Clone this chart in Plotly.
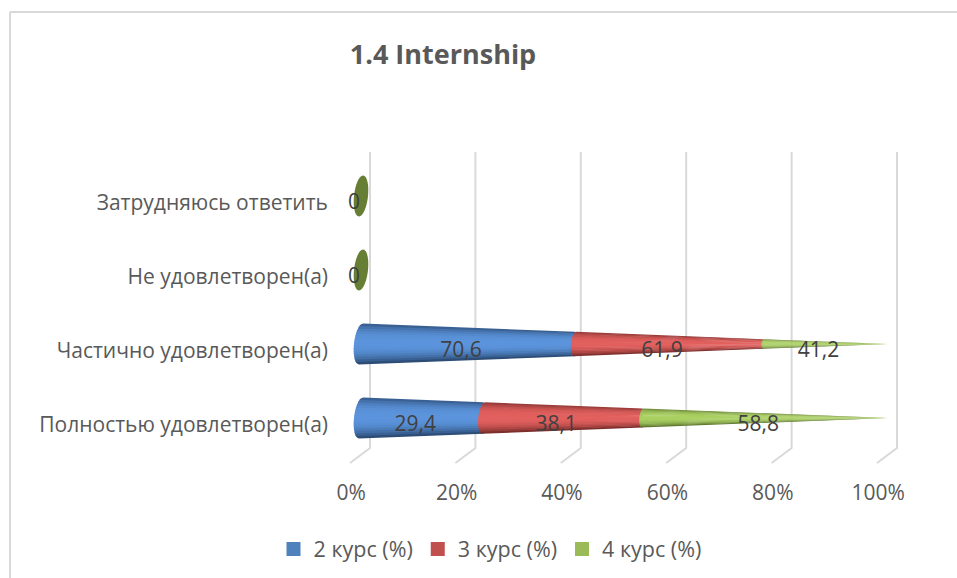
import math
import plotly.graph_objects as go

# ---- data ----
categories = ["Полностью удовлетворен(а)", "Частично удовлетворен(а)", "Не удовлетворен(а)", "Затрудняюсь ответить"]
series_names = ["2 курс (%)", "3 курс (%)", "4 курс (%)"]
course_2 = [29.4, 70.6, 0, 0]
course_3 = [38.1, 61.9, 0, 0]
course_4 = [58.8, 41.2, 0, 0]
axis_ticks = [0, 20, 40, 60, 80, 100]
title_text = "1.4 Internship"

# ---- styling ----
FONT = "Open Sans"
TEXT = "#595959"
LABEL = "#404040"
GRID = "#d9d9d9"
legend_colors = ["#4f81bd", "#c0504d", "#9bbb59"]
edge_dark = [(38, 66, 104), (110, 40, 38), (84, 108, 40)]
mid_light = [(91, 148, 220), (226, 96, 94), (170, 208, 98)]
zero_color = "#667f35"

W, H = 957, 578
L, R, T, B = 332, 920, 140, 472
PX_X, PX_Y = 5.27, 74.0           # pixels per percent, pixels per row
X0_PX, Y0_PX = 361.0, 418.0       # where 0 % and the first row land
RY = 20.5 / PX_Y                  # cone radius, in rows
RX = 7.0 / PX_X                   # base ellipse radius, in percent
SHEAR = 0.1                       # lean of the base ellipse
N_BANDS = 16

xr = [(L - X0_PX) / PX_X, (R - X0_PX) / PX_X]
yr = [(Y0_PX - B) / PX_Y, (Y0_PX - T) / PX_Y]
paper_x = lambda px: (px - L) / (R - L)
paper_y = lambda px: (B - px) / (B - T)

fig = go.Figure()

# perspective gridlines and floor
for t in axis_ticks:
    gx = t + 9.0 / PX_X
    fig.add_trace(go.Scatter(
        x=[gx, gx, gx - 20 / PX_X],
        y=[(Y0_PX - 152) / PX_Y, (Y0_PX - 448) / PX_Y, (Y0_PX - 463) / PX_Y],
        mode="lines", line=dict(color=GRID, width=2), hoverinfo="skip", showlegend=False))


def shade(i, t):
    """Colour of a cone at cross-section position t (-1 bottom, +1 top)."""
    if t >= 0:
        k = max(0.0, 1 - (t / 1.0) ** 3 * 0.75)
    else:
        k = max(0.0, 1 - (-t) ** 2.2)
    rgb = [round(d + (m - d) * k) for d, m in zip(edge_dark[i], mid_light[i])]
    return "rgb(%d,%d,%d)" % tuple(rgb)


def cone_point(row, f, t, left_arc):
    rad = 1 - f
    x = f * 100
    if left_arc:
        x += -RX * rad * math.sqrt(max(0.0, 1 - t * t)) + SHEAR * t * RY * rad * PX_Y / PX_X
    return x, row + RY * rad * t


all_series = [course_2, course_3, course_4]
labels_x, labels_y, labels_text = [], [], []

for row in range(len(categories)):
    vals = [s[row] for s in all_series]
    total = sum(vals)
    if total == 0:
        ts = [2 * math.pi * k / 48 for k in range(49)]
        ex = [RX * math.cos(a) + SHEAR * math.sin(a) * RY * PX_Y / PX_X for a in ts]
        ey = [row + RY * math.sin(a) for a in ts]
        fig.add_trace(go.Scatter(x=ex, y=ey, fill="toself", mode="none", fillcolor=zero_color,
                                 hoverinfo="skip", showlegend=False))
        labels_x.append(-7 / PX_X)
        labels_y.append(row - 8 / PX_Y)
        labels_text.append("0")
        continue
    cum = 0.0
    for i, v in enumerate(vals):
        f0, f1 = cum / total, (cum + v) / total
        cum += v
        for b in range(N_BANDS):
            t0 = -1 + 2 * b / N_BANDS
            t1 = min(1.0, -1 + 2 * (b + 1) / N_BANDS + 0.05)   # slight overlap hides seams
            steps = [t0 + (t1 - t0) * k / 4 for k in range(5)]
            left = [cone_point(row, f0, t, True) for t in steps]
            right = [cone_point(row, f1, t, False) for t in (t1, t0)]
            poly = left + right + left[:1]
            col = shade(i, -1 + 2 * (b + 0.5) / N_BANDS)
            fig.add_trace(go.Scatter(x=[p[0] for p in poly], y=[p[1] for p in poly], fill="toself",
                                     mode="none", fillcolor=col, hoverinfo="skip", showlegend=False))
        labels_x.append((f0 + f1) / 2 * 100 - 7 / PX_X)
        labels_y.append(row - 8 / PX_Y)
        labels_text.append(f"{v:.1f}".replace(".", ","))

# data labels
fig.add_trace(go.Scatter(x=labels_x, y=labels_y, text=labels_text, mode="text",
                         textposition="middle center", textfont=dict(family=FONT, size=21, color=LABEL),
                         hoverinfo="skip", showlegend=False))

# legend entries
for name, col in zip(series_names, legend_colors):
    fig.add_trace(go.Scatter(x=[None], y=[None], mode="markers", name=name,
                             marker=dict(symbol="square", size=14, color=col)))

shapes = [
    dict(type="line", xref="paper", yref="paper", x0=paper_x(10), x1=paper_x(10), y0=paper_y(12), y1=paper_y(578),
         line=dict(color=GRID, width=2)),
    dict(type="line", xref="paper", yref="paper", x0=paper_x(10), x1=paper_x(957), y0=paper_y(12), y1=paper_y(12),
         line=dict(color=GRID, width=2)),
]

fig.update_layout(
    width=W, height=H, autosize=False,
    margin=dict(l=L, r=W - R, t=T, b=H - B, pad=0, autoexpand=False),
    paper_bgcolor="white", plot_bgcolor="rgba(0,0,0,0)",
    font=dict(family=FONT, size=21, color=TEXT),
    title=dict(text=f"<b>{title_text}</b>", x=443 / W, xanchor="center", y=1 - 55 / H, yanchor="middle",
               font=dict(family=FONT, size=27, color=TEXT)),
    xaxis=dict(range=xr, showgrid=False, zeroline=False, showline=False, fixedrange=True, automargin=False,
               tickmode="array", tickvals=[t - 9.8 / PX_X for t in axis_ticks],
               ticktext=[f"{t}%" for t in axis_ticks], ticks="outside", ticklen=2, tickcolor="rgba(0,0,0,0)",
               tickfont=dict(family=FONT, size=21, color=TEXT)),
    yaxis=dict(range=yr, showgrid=False, zeroline=False, showline=False, fixedrange=True, automargin=False,
               tickmode="array", tickvals=[r - 7 / PX_Y for r in range(len(categories))],
               ticktext=categories, ticks="", ticklabelstandoff=3, tickfont=dict(family=FONT, size=21, color=TEXT)),
    legend=dict(orientation="h", xref="container", yref="container", x=490 / W, xanchor="center",
                y=1 - 549 / H, yanchor="middle",
                font=dict(family=FONT, size=21.5, color=TEXT), bgcolor="rgba(0,0,0,0)",
                itemclick=False, itemdoubleclick=False),
    shapes=shapes,
    showlegend=True,
)

fig.write_html("out.html", config={"displayModeBar": False},
               post_script="document.body.style.margin='0';")
